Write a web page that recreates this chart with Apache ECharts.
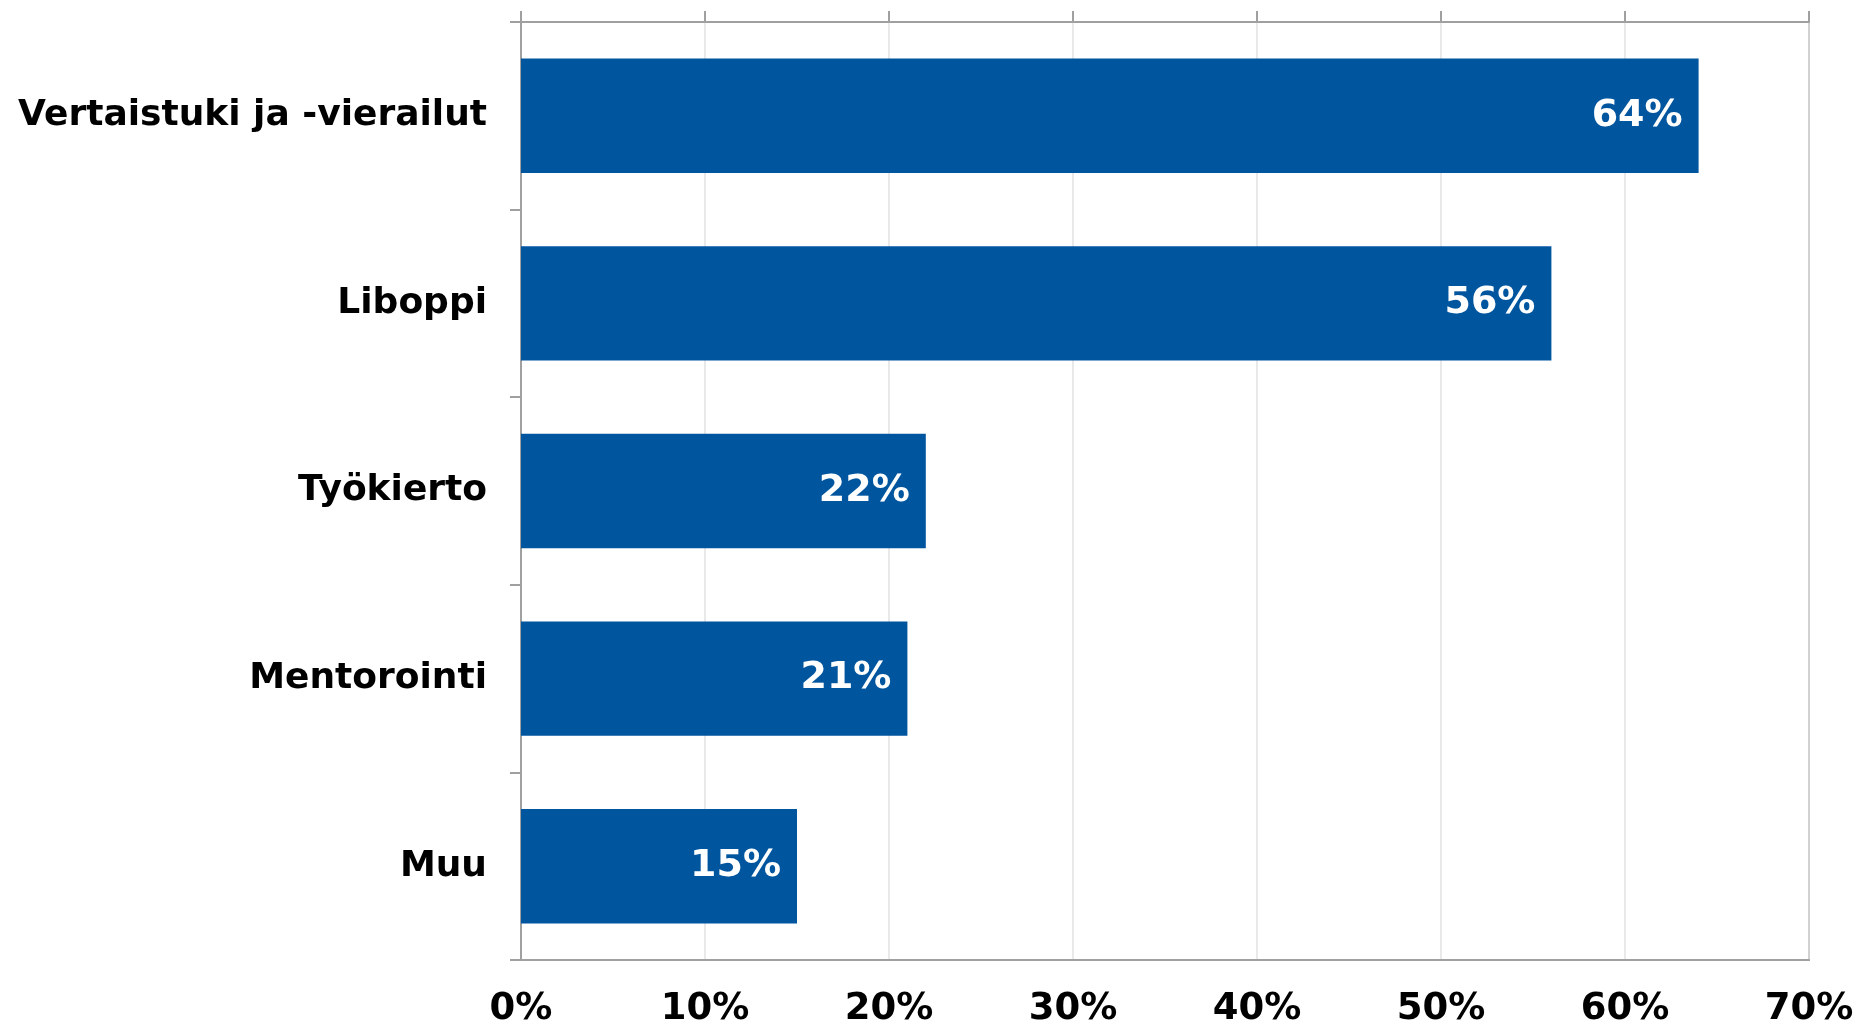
<!DOCTYPE html>
<html>
<head>
<meta charset="utf-8">
<script src="https://cdn.jsdelivr.net/npm/echarts@6/dist/echarts.min.js"></script>
<style>
html,body{margin:0;padding:0;background:#fff;}
#chart{width:1867px;height:1026px;}
</style>
</head>
<body>
<div id="chart"></div>
<script>
const categories = ['Vertaistuki ja -vierailut', 'Liboppi', 'Työkierto', 'Mentorointi', 'Muu'];
const values = [64, 56, 22, 21, 15];
const tickMin = 0, tickMax = 70, tickStep = 10;

const chart = echarts.init(document.getElementById('chart'));
const font = 'DejaVu Sans, Verdana, sans-serif';
chart.setOption({
  animation: false,
  grid: { left: 521, right: 58, top: 22, bottom: 66, outerBoundsMode: 'none', containLabel: false, show: true, borderColor: '#a0a0a0', borderWidth: 2, backgroundColor: 'transparent' },
  xAxis: [
    {
      type: 'value', position: 'bottom', min: tickMin, max: tickMax, interval: tickStep,
      axisLine: { show: true, lineStyle: { color: '#a0a0a0', width: 2 } },
      axisTick: { show: false },
      splitLine: { show: true, lineStyle: { color: '#e2e2e2', width: 1.5 } },
      axisLabel: { formatter: v => v + '%', fontFamily: font, fontWeight: 'bold', fontSize: 37, color: '#000', margin: 31 }
    },
    {
      type: 'value', position: 'top', min: tickMin, max: tickMax, interval: tickStep,
      axisLine: { show: true, lineStyle: { color: '#a0a0a0', width: 2 } },
      axisTick: { show: true, length: 11, lineStyle: { color: '#a0a0a0', width: 2 } },
      splitLine: { show: false },
      axisLabel: { show: false }
    }
  ],
  yAxis: {
    type: 'category', data: categories, inverse: true,
    axisLine: { show: true, lineStyle: { color: '#a0a0a0', width: 2 } },
    axisTick: { show: true, length: 11, lineStyle: { color: '#a0a0a0', width: 2 } },
    axisLabel: { fontFamily: font, fontWeight: 'bold', fontSize: 36, color: '#000', margin: 34 }
  },
  series: [{
    type: 'bar', data: values, xAxisIndex: 0, barCategoryGap: '39%',
    itemStyle: { color: '#00559f' },
    label: { show: true, position: 'insideRight', distance: 16, formatter: p => p.value + '%', fontFamily: font, fontWeight: 'bold', fontSize: 38, color: '#fff' }
  }]
});
</script>
</body>
</html>
